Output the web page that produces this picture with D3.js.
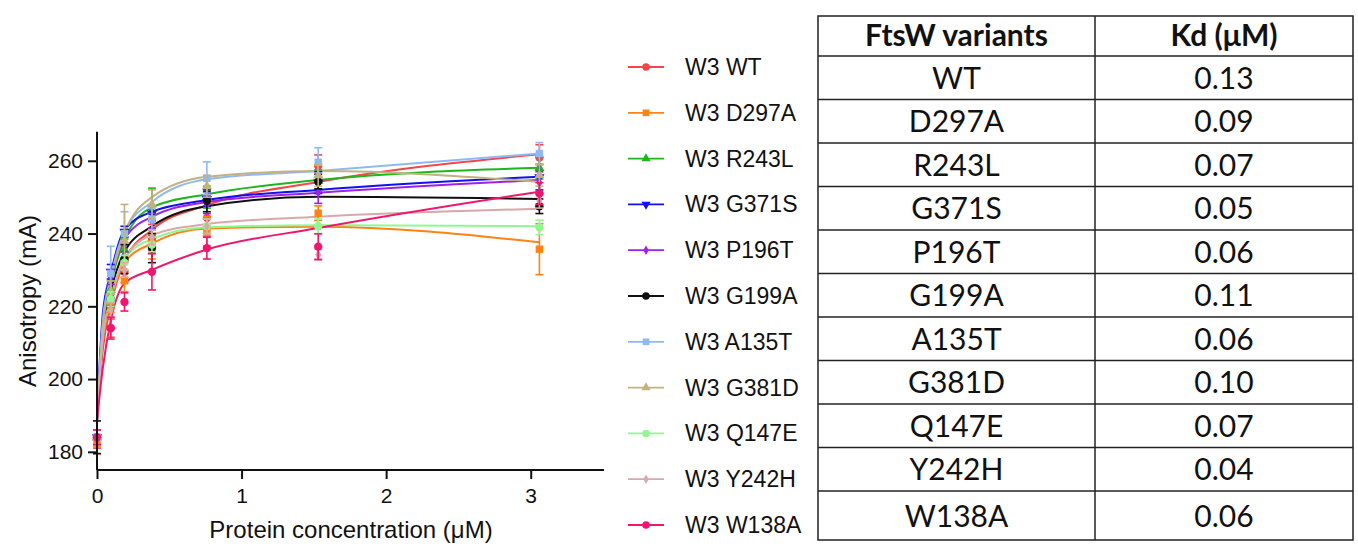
<!DOCTYPE html>
<html><head><meta charset="utf-8">
<script src="https://cdn.jsdelivr.net/npm/d3@7"></script>
<style>body{margin:0;background:#fff;} svg{display:block;}</style>
</head><body>
<svg id="c" width="1358" height="544"></svg>
<script>
// ---- data ----
const concentrations = [0, 0.095, 0.19, 0.38, 0.76, 1.53, 3.06];
const curveX = [0, 0.04, 0.095, 0.19, 0.38, 0.76, 1.53, 3.06];
const seriesNames = ["W3 WT","W3 D297A","W3 R243L","W3 G371S","W3 P196T","W3 G199A","W3 A135T","W3 G381D","W3 Q147E","W3 Y242H","W3 W138A"];
const seriesColors = ["#f4474a","#ff8214","#1fb51f","#1010f0","#a020e8","#101010","#8fb9f4","#c2b280","#90f890","#d9a8a8","#f0166e"];
const seriesShapes = ["circle","square","triangle","triangleDown","diamond","circle","square","triangle","circle","diamond","circle"];
const wtMean    = [183.5, 214.0, 229.5, 238.5, 244.3, 258.6, 260.9];
const wtErr     = [2.5, 2.5, 3, 4, 5, 3, 3.5];
const d297aMean = [182.0, 220.3, 227.0, 235.5, 240.6, 245.6, 235.7];
const d297aErr  = [2.5, 2, 3, 2.5, 4, 2, 7];
const r243lMean = [184.0, 224.5, 235.5, 246.0, 250.0, 254.5, 258.0];
const r243lErr  = [2, 2.5, 3, 6.5, 3, 3, 3];
const g371sMean = [184.0, 229.5, 240.5, 245.5, 249.5, 254.0, 255.5];
const g371sErr  = [2, 2, 1.5, 2, 2, 3, 3.5];
const p196tMean = [184.0, 228.0, 237.0, 243.5, 248.0, 251.3, 254.0];
const p196tErr  = [2, 2, 2, 2, 2.5, 3, 3];
const g199aMean = [184.0, 222.0, 233.0, 236.0, 249.0, 254.3, 247.5];
const g199aErr  = [4.5, 2, 4, 4, 3, 2, 2];
const a135tMean = [184.0, 229.0, 240.0, 244.0, 255.2, 259.6, 262.0];
const a135tErr  = [2, 7.5, 6, 3, 4.5, 4, 3];
const g381dMean = [184.0, 224.0, 238.0, 248.0, 253.0, 256.0, 256.0];
const g381dErr  = [2, 3, 10, 4, 3, 3, 3];
const q147eMean = [184.0, 222.0, 232.0, 237.0, 242.0, 242.0, 241.7];
const q147eErr  = [2, 2, 2, 2, 2, 2, 2];
const y242hMean = [184.0, 219.0, 230.0, 239.0, 242.0, 234.2, 249.0];
const y242hErr  = [2, 2, 2, 2, 2, 1.5, 2];
const w138aMean = [184.0, 214.0, 221.2, 229.5, 236.0, 236.4, 251.0];
const w138aErr  = [2, 3, 2.5, 5, 3, 3.5, 3];
const wtFit    = [188.5, 208, 220, 232.5, 241.0, 247.8, 254.2, 261.8];
const d297aFit = [188.5, 210, 221, 232.0, 237.3, 241.4, 241.9, 237.6];
const r243lFit = [188.5, 213, 226, 238.2, 247.2, 250.8, 254.7, 258.1];
const g371sFit = [188.5, 218, 229, 241.0, 246.0, 249.2, 252.0, 255.6];
const p196tFit = [188.5, 215, 227, 238.5, 244.6, 248.7, 251.2, 254.7];
const g199aFit = [188.5, 211, 223.6, 235.0, 242.0, 247.5, 250.1, 249.5];
const a135tFit = [188.5, 216, 228, 240.5, 248.7, 254.9, 257.2, 262.0];
const g381dFit = [188.5, 214, 227, 240.0, 250.0, 255.6, 257.2, 254.2];
const q147eFit = [188.5, 211, 222, 233.0, 238.5, 241.7, 242.3, 242.0];
const y242hFit = [188.5, 211, 222, 233.0, 239.6, 242.6, 244.6, 246.8];
const w138aFit = [188.5, 203, 216, 226.3, 230.0, 235.6, 241.5, 251.5];
const xTicks = [0, 1, 2, 3];
const yTicks = [180, 200, 220, 240, 260];
const tableHeader = ["FtsW variants", "Kd (μM)"];
const tableVariants = ["WT","D297A","R243L","G371S","P196T","G199A","A135T","G381D","Q147E","Y242H","W138A"];
const tableKd = ["0.13","0.09","0.07","0.05","0.06","0.11","0.06","0.10","0.07","0.04","0.06"];

const means = [wtMean,d297aMean,r243lMean,g371sMean,p196tMean,g199aMean,a135tMean,g381dMean,q147eMean,y242hMean,w138aMean];
const errs = [wtErr,d297aErr,r243lErr,g371sErr,p196tErr,g199aErr,a135tErr,g381dErr,q147eErr,y242hErr,w138aErr];
const fits = [wtFit,d297aFit,r243lFit,g371sFit,p196tFit,g199aFit,a135tFit,g381dFit,q147eFit,y242hFit,w138aFit];

// ---- drawing ----
const svg = d3.select("#c");
const font = "'Liberation Sans', Arial, sans-serif";
const x = d3.scaleLinear().domain([0, 3.5]).range([97, 603]);
const y = d3.scaleLinear().domain([175, 268]).range([470, 131.7]);

const symType = {circle: d3.symbolCircle, square: d3.symbolSquare, triangle: d3.symbolTriangle, triangleDown: d3.symbolTriangle, diamond: d3.symbolDiamond};
const symSize = {circle: 55, square: 55, triangle: 45, triangleDown: 45, diamond: 32};
function marker(g, shape, color, cx, cy, scale) {
  g.append("path").attr("d", d3.symbol().type(symType[shape]).size(symSize[shape]*(scale||1))())
    .attr("transform", `translate(${cx},${cy})` + (shape === "triangleDown" ? " rotate(180)" : ""))
    .attr("fill", color);
}

const plot = svg.append("g");
// curves
seriesNames.forEach((n, i) => {
  const pts = curveX.map((cx, j) => [cx, fits[i][j]]);
  plot.append("path").datum(pts)
    .attr("d", d3.line().x(d => x(d[0])).y(d => y(d[1])).curve(d3.curveMonotoneX))
    .attr("fill", "none").attr("stroke", seriesColors[i]).attr("stroke-width", 2);
});
// error bars & markers
seriesNames.forEach((n, i) => {
  const g = plot.append("g");
  concentrations.forEach((c, j) => {
    const cx = x(c), m = means[i][j], e = errs[i][j];
    g.append("line").attr("x1", cx).attr("x2", cx).attr("y1", y(m - e)).attr("y2", y(m + e))
      .attr("stroke", seriesColors[i]).attr("stroke-width", 1.6);
    [m - e, m + e].forEach(v => g.append("line").attr("x1", cx - 4).attr("x2", cx + 4)
      .attr("y1", y(v)).attr("y2", y(v)).attr("stroke", seriesColors[i]).attr("stroke-width", 1.6));
    marker(g, seriesShapes[i], seriesColors[i], cx, y(m), 1);
  });
});

// axes
const xAxis = svg.append("g").attr("transform", "translate(0,470)")
  .call(d3.axisBottom(x).tickValues(xTicks).tickSize(9).tickPadding(9).tickFormat(d3.format("d")));
const yAxis = svg.append("g").attr("transform", "translate(97,0)")
  .call(d3.axisLeft(y).tickValues(yTicks).tickSize(9).tickPadding(5));
[xAxis, yAxis].forEach(a => {
  a.select(".domain").attr("stroke", "#111").attr("stroke-width", 2);
  a.selectAll(".tick line").attr("stroke", "#111").attr("stroke-width", 2);
  a.selectAll("text").attr("font-family", font).attr("font-size", 21).attr("fill", "#111");
});
xAxis.select(".domain").attr("d", "M97,0H604");
yAxis.select(".domain").attr("d", "M0,470V131.7");

svg.append("text").attr("x", 351).attr("y", 538).attr("text-anchor", "middle")
  .attr("font-family", font).attr("font-size", 24).attr("fill", "#111").text("Protein concentration (μM)");
svg.append("text").attr("transform", "translate(36,301) rotate(-90)").attr("text-anchor", "middle")
  .attr("font-family", font).attr("font-size", 24).attr("fill", "#111").text("Anisotropy (mA)");

// legend
const leg = svg.append("g");
seriesNames.forEach((n, i) => {
  const ly = 67 + i * 45.8;
  leg.append("line").attr("x1", 628).attr("x2", 664).attr("y1", ly).attr("y2", ly)
    .attr("stroke", seriesColors[i]).attr("stroke-width", 1.8);
  marker(leg, seriesShapes[i], seriesColors[i], 646, ly, 0.8);
  leg.append("text").attr("x", 685).attr("y", ly + 8).attr("font-family", font).attr("font-size", 23)
    .attr("fill", "#111").text(n);
});

// table
const tfont = "Lato, 'Open Sans', sans-serif";
const tLeft = 818, tMid = 1095, tRight = 1353, tTop = 16, headH = 40, rowH = 43.5, tBottom = 540;
const rowTops = [tTop, tTop + headH].concat(tableVariants.slice(1).map((d, i) => tTop + headH + (i + 1) * rowH));
const tb = svg.append("g");
tb.append("rect").attr("x", tLeft).attr("y", tTop).attr("width", tRight - tLeft).attr("height", tBottom - tTop)
  .attr("fill", "none").attr("stroke", "#222").attr("stroke-width", 1.5);
tb.append("line").attr("x1", tMid).attr("x2", tMid).attr("y1", tTop).attr("y2", tBottom).attr("stroke", "#222").attr("stroke-width", 1.5);
rowTops.slice(1).forEach(ry => tb.append("line").attr("x1", tLeft).attr("x2", tRight).attr("y1", ry).attr("y2", ry)
  .attr("stroke", "#222").attr("stroke-width", 1.5));
const c1 = (tLeft + tMid) / 2, c2 = (tMid + tRight) / 2;
tb.append("text").attr("x", c1).attr("y", tTop + headH / 2 + 10).attr("text-anchor", "middle")
  .attr("font-family", tfont).attr("font-weight", "bold").attr("font-size", 30).attr("fill", "#111").text(tableHeader[0]);
tb.append("text").attr("x", c2).attr("y", tTop + headH / 2 + 10).attr("text-anchor", "middle")
  .attr("font-family", tfont).attr("font-weight", "bold").attr("font-size", 30).attr("fill", "#111").text(tableHeader[1]);
tableVariants.forEach((v, i) => {
  const top = rowTops[i + 1];
  const bot = i + 2 < rowTops.length ? rowTops[i + 2] : tBottom;
  const cy = (top + bot) / 2 + 11;
  tb.append("text").attr("x", c1).attr("y", cy).attr("text-anchor", "middle")
    .attr("font-family", tfont).attr("font-size", 30).attr("fill", "#111").text(v);
  tb.append("text").attr("x", c2).attr("y", cy).attr("text-anchor", "middle")
    .attr("font-family", tfont).attr("font-size", 30).attr("fill", "#111").text(tableKd[i]);
});
</script>
</body></html>
